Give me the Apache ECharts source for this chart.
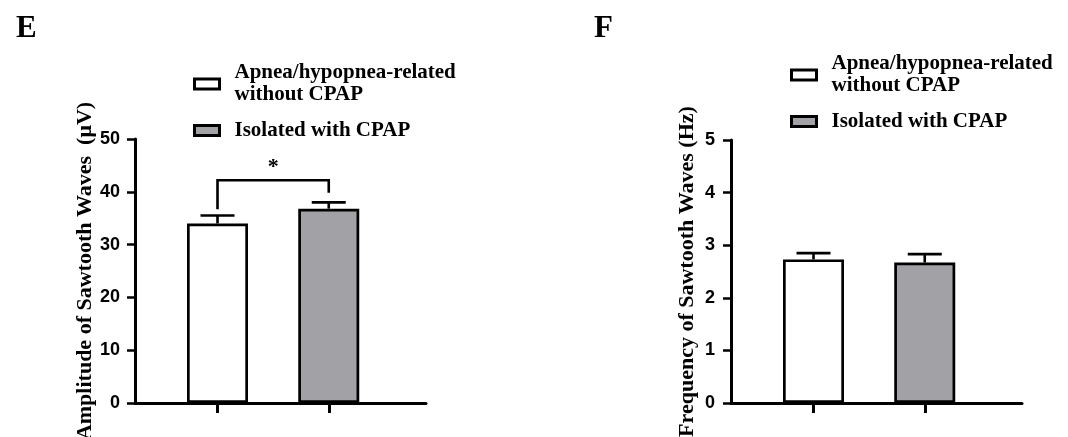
<!DOCTYPE html>
<html>
<head>
<meta charset="utf-8">
<script src="https://cdn.jsdelivr.net/npm/echarts@6/dist/echarts.min.js"></script>
<style>
html,body{margin:0;padding:0;background:#fff;}
#chart{width:1068px;height:437px;}
</style>
</head>
<body>
<div id="chart"></div>
<script>
// ---------- data ----------
var groupNames = ['Apnea/hypopnea-related\nwithout CPAP', 'Isolated with CPAP'];
var groupPositions = [1, 2];
// Panel E: amplitude (µV)
var amplitudeMean = [34.0, 36.8];
var amplitudeUpper = [35.5, 38.0];
var amplitudeTicks = [0, 10, 20, 30, 40, 50];
// Panel F: frequency (Hz)
var frequencyMean = [2.73, 2.67];
var frequencyUpper = [2.85, 2.83];
var frequencyTicks = [0, 1, 2, 3, 4, 5];
// significance annotation in panel E (values on the amplitude scale)
var sigTop = 42.2, sigLeftEnd = 36.7, sigRightEnd = 39.8, sigLabel = '*', sigLabelY = 44.6;
var panelLetters = ['E', 'F'];
var yTitles = ['Amplitude of Sawtooth Waves  (\u03bcV)', 'Frequency of Sawtooth Waves (Hz)'];

// ---------- style ----------
var SERIF = '"Liberation Serif", "Times New Roman", serif';
var SANS = '"Liberation Sans", Arial, sans-serif';
var fills = ['#ffffff', '#a2a2a6'];
var xMin = 1 - 82.5 / 111.25;
var xMax = xMin + 291 / 111.25;

var chart = echarts.init(document.getElementById('chart'), null, {renderer: 'canvas'});

function xAxisFor(i) {
  return {
    type: 'value', gridIndex: i, min: xMin, max: xMax,
    axisLine: {show: true, onZero: false, lineStyle: {color: '#000', width: 3}},
    axisTick: {show: true, customValues: groupPositions, length: 10, lineStyle: {color: '#000', width: 3}},
    axisLabel: {show: false},
    splitLine: {show: false}
  };
}
function yAxisFor(i, ticks, gap, margin) {
  return {
    type: 'value', gridIndex: i, min: ticks[0], max: ticks[ticks.length - 1],
    interval: ticks[1] - ticks[0],
    name: yTitles[i], nameLocation: 'middle', nameGap: gap,
    nameTextStyle: {fontFamily: SERIF, fontWeight: 'bold', fontSize: 22, color: '#000'},
    axisLine: {show: true, lineStyle: {color: '#000', width: 3}},
    axisTick: {show: true, length: 8, lineStyle: {color: '#000', width: 2.5}},
    axisLabel: {fontFamily: SANS, fontWeight: 'bold', fontSize: 18, color: '#000', margin: margin},
    splitLine: {show: false}
  };
}
function barSeries(panel, g, means) {
  return {
    type: 'bar', name: groupNames[g], xAxisIndex: panel, yAxisIndex: panel,
    data: [[groupPositions[g], means[g]]],
    barWidth: 61, barGap: '-100%',
    itemStyle: {color: fills[g], borderColor: '#000', borderWidth: 2.7},
    emphasis: {disabled: true}, z: 2
  };
}
function errorSeries(panel, means, uppers) {
  var d = groupPositions.map(function (p, k) { return [p, means[k], uppers[k]]; });
  return {
    type: 'custom', xAxisIndex: panel, yAxisIndex: panel, data: d, z: 3, silent: true,
    renderItem: function (params, api) {
      var a = api.coord([api.value(0), api.value(1)]);
      var b = api.coord([api.value(0), api.value(2)]);
      var st = {stroke: '#000', lineWidth: 2.6, fill: null};
      return {type: 'group', children: [
        {type: 'line', shape: {x1: a[0], y1: a[1], x2: b[0], y2: b[1]}, style: st},
        {type: 'line', shape: {x1: b[0] - 17, y1: b[1], x2: b[0] + 17, y2: b[1]}, style: st}
      ]};
    }
  };
}

var legendText = {fontFamily: SERIF, fontWeight: 'bold', fontSize: 21, lineHeight: 22, color: '#000', padding: [0, 0, 0, 10]};
var letterStyle = {fontFamily: SERIF, fontWeight: 'bold', fontSize: 31, color: '#000'};
var option = {
  backgroundColor: '#fff',
  animation: false,
  title: [
    {text: panelLetters[0], left: 16, top: 13, padding: 0, textStyle: letterStyle},
    {text: panelLetters[1], left: 594, top: 13, padding: 0, textStyle: letterStyle}
  ],
  legend: [
    {data: groupNames, orient: 'vertical', left: 193, top: 62, padding: 0, itemWidth: 25, itemHeight: 10, itemGap: 13.5,
     icon: 'rect', selectedMode: false, itemStyle: {borderWidth: 3}, textStyle: legendText},
    {data: groupNames, orient: 'vertical', left: 790, top: 53, padding: 0, itemWidth: 25, itemHeight: 10, itemGap: 13.5,
     icon: 'rect', selectedMode: false, itemStyle: {borderWidth: 3}, textStyle: legendText}
  ],
  grid: [
    {left: 135, top: 139, width: 291, height: 264, outerBoundsMode: 'none', containLabel: false},
    {left: 731, top: 140, width: 291, height: 263, outerBoundsMode: 'none', containLabel: false}
  ],
  xAxis: [xAxisFor(0), xAxisFor(1)],
  yAxis: [yAxisFor(0, amplitudeTicks, 37, 15), yAxisFor(1, frequencyTicks, 33, 16)],
  series: [
    barSeries(0, 0, amplitudeMean),
    barSeries(0, 1, amplitudeMean),
    barSeries(1, 0, frequencyMean),
    barSeries(1, 1, frequencyMean),
    errorSeries(0, amplitudeMean, amplitudeUpper),
    errorSeries(1, frequencyMean, frequencyUpper),
    {
      type: 'custom', xAxisIndex: 0, yAxisIndex: 0, z: 4, silent: true,
      data: [[groupPositions[0], groupPositions[1], sigTop, sigLeftEnd, sigRightEnd, sigLabelY]],
      renderItem: function (params, api) {
        var x1 = api.value(0), x2 = api.value(1);
        var pL = api.coord([x1, api.value(3)]);
        var pLT = api.coord([x1, api.value(2)]);
        var pRT = api.coord([x2, api.value(2)]);
        var pR = api.coord([x2, api.value(4)]);
        var pS = api.coord([(x1 + x2) / 2, api.value(5)]);
        return {type: 'group', children: [
          {type: 'polyline', shape: {points: [pL, pLT, pRT, pR]}, style: {stroke: '#000', lineWidth: 2.6, fill: null}},
          {type: 'text', x: pS[0], y: pS[1], style: {text: sigLabel, fontFamily: SERIF, fontWeight: 'bold', fontSize: 22, fill: '#000', align: 'center', verticalAlign: 'middle'}}
        ]};
      }
    }
  ]
};
chart.setOption(option);
</script>
</body>
</html>
